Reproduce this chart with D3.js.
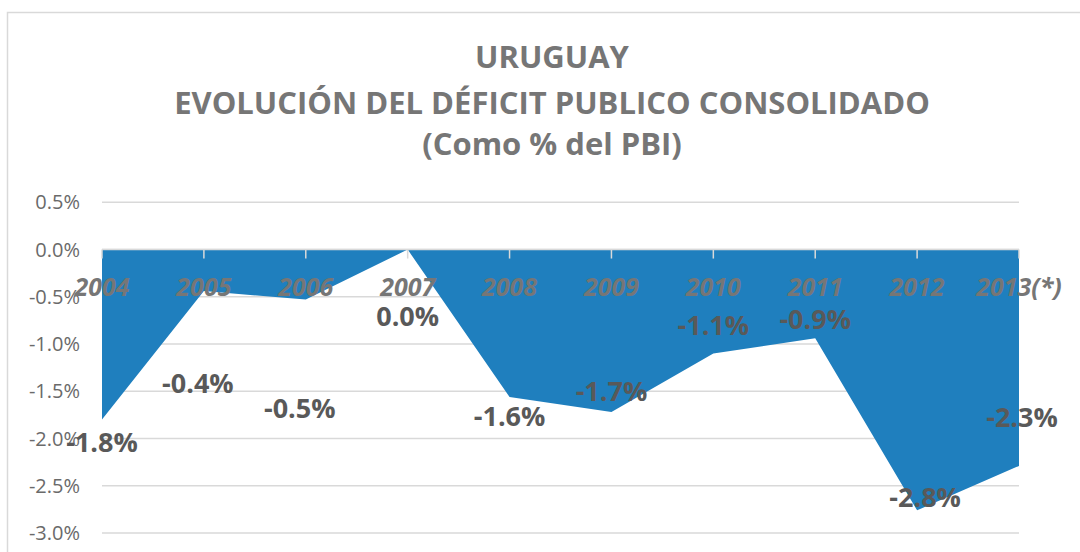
<!DOCTYPE html>
<html>
<head>
<meta charset="utf-8">
<script src="https://cdn.jsdelivr.net/npm/d3@7"></script>
<style>
  body { margin: 0; background: #fff; }
  text { font-family: "Open Sans", "Noto Sans", sans-serif; }
</style>
</head>
<body>
<script>
// datos
const years = ["2004", "2005", "2006", "2007", "2008", "2009", "2010", "2011", "2012", "2013(*)"];
const deficit = [-1.8, -0.44, -0.53, 0.0, -1.56, -1.72, -1.1, -0.94, -2.76, -2.29];
const yTicks = [0.5, 0.0, -0.5, -1.0, -1.5, -2.0, -2.5, -3.0];
const titleLines = ["URUGUAY", "EVOLUCIÓN DEL DÉFICIT PUBLICO CONSOLIDADO", "(Como % del PBI)"];

// desplazamiento de las etiquetas respecto al punto (como en la planilla)
const labelOffsets = [[0, 32], [-6, 102], [-6, 118], [0, 76], [0, 29], [0, -11], [0, -18], [0, -9], [8, -3], [3, -39]];

const W = 1080, H = 552;

const svg = d3.select("body").append("svg")
  .attr("width", W)
  .attr("height", H);

// marco del grafico
svg.append("rect")
  .attr("x", 7.5).attr("y", 12.5)
  .attr("width", 1100).attr("height", 600)
  .attr("fill", "none")
  .attr("stroke", "#d9d9d9")
  .attr("stroke-width", 1.5);

const x = d3.scalePoint().domain(years).range([102, 1019]);
const y = d3.scaleLinear().domain([-3, 0.5]).range([533, 202.3]);

const fmt = v => v.toFixed(1) + "%";

// titulo
const titleY = [68, 114, 155];
svg.selectAll(".title")
  .data(titleLines)
  .enter()
  .append("text")
  .attr("class", "title")
  .attr("x", 552)
  .attr("y", (d, i) => titleY[i])
  .attr("text-anchor", "middle")
  .attr("font-size", 31)
  .attr("font-weight", "bold")
  .attr("fill", "#767676")
  .text(d => d);

// grilla horizontal
svg.selectAll(".grid")
  .data(yTicks)
  .enter()
  .append("line")
  .attr("class", "grid")
  .attr("x1", 102).attr("x2", 1019)
  .attr("y1", d => y(d)).attr("y2", d => y(d))
  .attr("stroke", "#d9d9d9")
  .attr("stroke-width", 1.5);

svg.selectAll(".ylab")
  .data(yTicks)
  .enter()
  .append("text")
  .attr("class", "ylab")
  .attr("x", 80)
  .attr("y", d => y(d) + 7)
  .attr("text-anchor", "end")
  .attr("font-size", 20)
  .attr("fill", "#6a6a6a")
  .text(d => fmt(d));

// area
const area = d3.area()
  .x((d, i) => x(years[i]))
  .y0(y(0))
  .y1(d => y(d));

svg.append("path")
  .datum(deficit)
  .attr("d", area)
  .attr("fill", "#1f7fbe");

// eje x en cero con marcas
svg.append("line")
  .attr("x1", 102).attr("x2", 1019)
  .attr("y1", y(0)).attr("y2", y(0))
  .attr("stroke", "#d9d9d9")
  .attr("stroke-width", 1.5);

svg.selectAll(".tick")
  .data(years)
  .enter()
  .append("line")
  .attr("class", "tick")
  .attr("x1", d => x(d)).attr("x2", d => x(d))
  .attr("y1", y(0)).attr("y2", y(0) + 9)
  .attr("stroke", "#d9d9d9")
  .attr("stroke-width", 1.5);

svg.selectAll(".xlab")
  .data(years)
  .enter()
  .append("text")
  .attr("class", "xlab")
  .attr("x", d => x(d))
  .attr("y", 296)
  .attr("text-anchor", "middle")
  .attr("font-size", 25)
  .attr("font-weight", "bold")
  .attr("font-style", "italic")
  .attr("fill", "#767676")
  .text(d => d);

// etiquetas de datos
svg.selectAll(".dlab")
  .data(deficit)
  .enter()
  .append("text")
  .attr("class", "dlab")
  .attr("x", (d, i) => x(years[i]) + labelOffsets[i][0])
  .attr("y", (d, i) => y(d) + labelOffsets[i][1])
  .attr("text-anchor", "middle")
  .attr("font-size", 27)
  .attr("font-weight", "bold")
  .attr("fill", "#595959")
  .text(d => fmt(d));
</script>
</body>
</html>
